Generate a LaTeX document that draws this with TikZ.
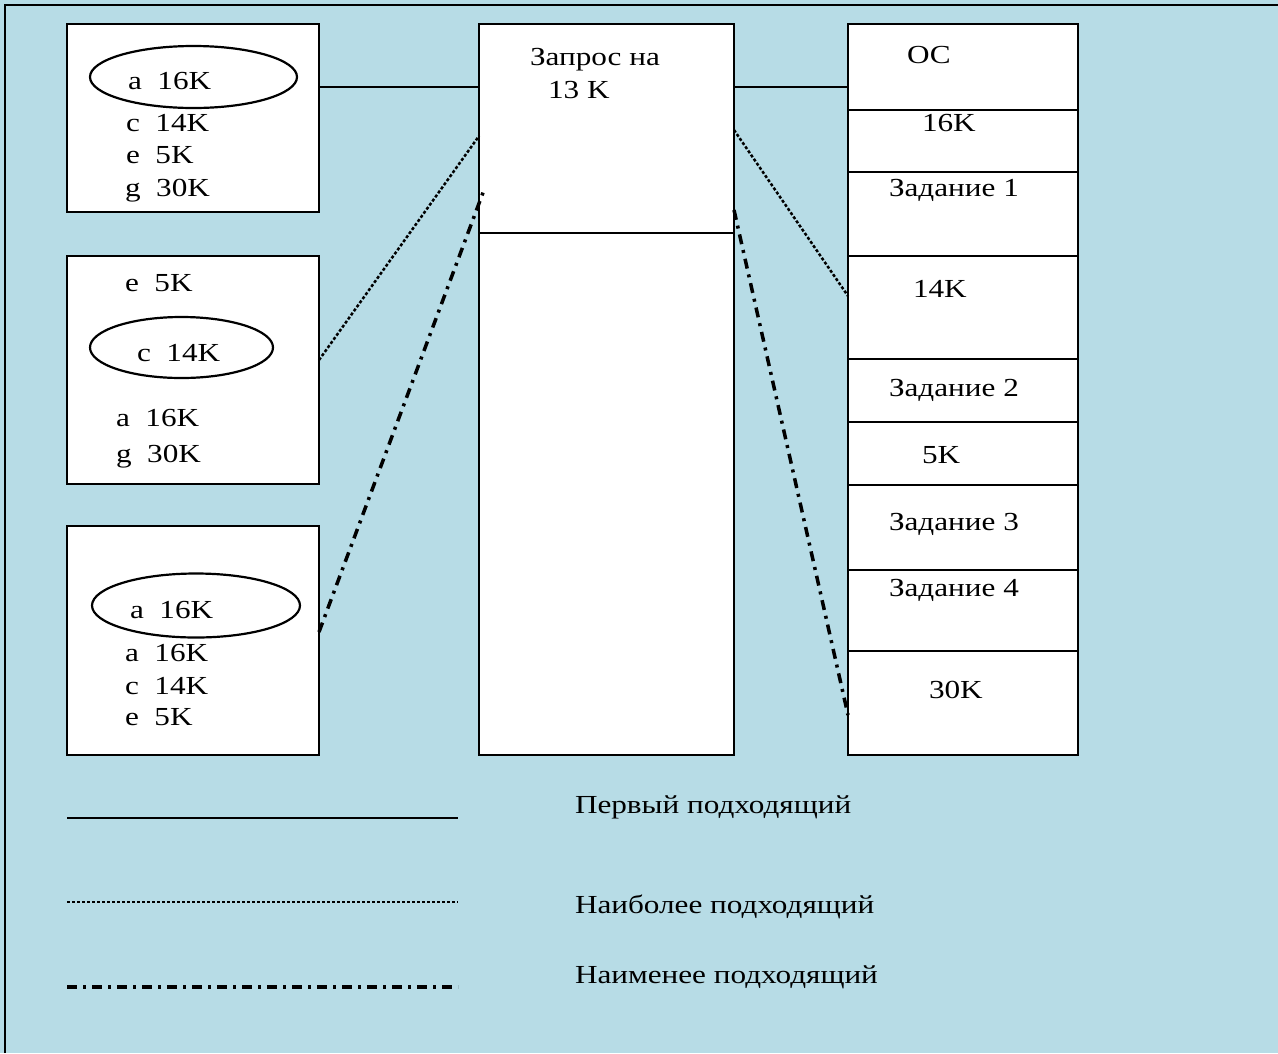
\documentclass[tikz,border=0pt]{standalone}
\usepackage{fontspec}
\setmainfont{Liberation Serif}[FakeStretch=1.2]
\usetikzlibrary{shapes.geometric}
\definecolor{bgblue}{RGB}{183,220,230}

\begin{document}
\begin{tikzpicture}[x=1pt,y=-1pt,
  every node/.style={inner sep=0pt, outer sep=0pt},
  panel/.style={draw, fill=white, line width=2pt},
  ring/.style={ellipse, draw, line width=2.2pt},
  txt/.style={anchor=base west, font=\fontsize{26}{30}\selectfont},
  firstfit/.style={line width=2pt},
  bestfit/.style={line width=2.5pt, dash pattern=on 3pt off 2pt},
  worstfit/.style={line width=3.5pt, dash pattern=on 10pt off 6pt on 3pt off 6pt}]

% background and frame
\fill[bgblue] (0,0) rectangle (1278,1053);
\useasboundingbox (0,0) rectangle (1278,1053);
\draw[line width=2pt] (4.5,1053) -- (4.5,4.5) -- (1278,4.5);

% free-block lists
\node[panel, minimum width=252pt, minimum height=188pt] (b1) at (193,118) {};
\node[panel, minimum width=252pt, minimum height=228pt] (b2) at (193,370) {};
\node[panel, minimum width=252pt, minimum height=229pt] (b3) at (193,640.5) {};

% request block
\node[panel, minimum width=255pt, minimum height=209pt] (midtop) at (606.5,128.5) {};
\node[panel, minimum width=255pt, minimum height=522pt] (midbot) at (606.5,494) {};

% memory map
\node[panel, minimum width=230pt, minimum height=86pt]  (r1) at (963,67) {};
\node[panel, minimum width=230pt, minimum height=62pt]  (r2) at (963,141) {};
\node[panel, minimum width=230pt, minimum height=84pt]  (r3) at (963,214) {};
\node[panel, minimum width=230pt, minimum height=103pt] (r4) at (963,307.5) {};
\node[panel, minimum width=230pt, minimum height=63pt]  (r5) at (963,390.5) {};
\node[panel, minimum width=230pt, minimum height=63pt]  (r6) at (963,453.5) {};
\node[panel, minimum width=230pt, minimum height=85pt]  (r7) at (963,527.5) {};
\node[panel, minimum width=230pt, minimum height=81pt]  (r8) at (963,610.5) {};
\node[panel, minimum width=230pt, minimum height=104pt] (r9) at (963,703) {};

% ellipses
\node[ring, minimum width=207pt, minimum height=62pt] (e1) at (193.5,77) {};
\node[ring, minimum width=183pt, minimum height=61pt] (e2) at (181.5,347.5) {};
\node[ring, minimum width=208pt, minimum height=64pt] (e3) at (196,605.5) {};

% list texts
\node[txt] (t11) at (128,89.5) {a~~16K};
\node[txt] (t12) at (126,131) {c~~14K};
\node[txt] (t13) at (126,163) {e~~5K};
\node[txt] (t14) at (125,196) {g~~30K};

\node[txt] (t21) at (125,291.5) {e~~5K};
\node[txt] (t22) at (137,361.5) {c~~14K};
\node[txt] (t23) at (116,426) {a~~16K};
\node[txt] (t24) at (116,462) {g~~30K};

\node[txt] (t31) at (130,618) {a~~16K};
\node[txt] (t32) at (125,661.5) {a~~16K};
\node[txt] (t33) at (125,694.5) {c~~14K};
\node[txt] (t34) at (125,725) {e~~5K};

% request text
\node[txt] (q1) at (530,65) {Запрос на};
\node[txt] (q2) at (548,98) {13 K};

% memory map texts
\node[txt] (m1) at (907,63) {ОС};
\node[txt] (m2) at (922,131) {16K};
\node[txt] (m3) at (889,196.5) {Задание 1};
\node[txt] (m4) at (913,297.5) {14K};
\node[txt] (m5) at (889,396.5) {Задание 2};
\node[txt] (m6) at (922,463) {5K};
\node[txt] (m7) at (889,530) {Задание 3};
\node[txt] (m8) at (889,596.5) {Задание 4};
\node[txt] (m9) at (929,698) {30K};

% first fit
\coordinate (ff) at ([yshift=31pt]b1.east);
\draw[firstfit] (ff) -- (ff -| midtop.west);
\draw[firstfit] (ff -| midtop.east) -- (ff -| r1.west);

% best fit
\draw[bestfit] ([yshift=10pt]b2.east) -- ([yshift=-7.5pt]midtop.west);
\draw[bestfit] ([yshift=-1.5pt]midtop.east) -- ([yshift=11.5pt]r4.west);

% worst fit
\draw[worstfit] ([yshift=8.5pt]b3.east) -- ([xshift=5pt,yshift=-61.5pt]midtop.west);
\draw[worstfit] ([yshift=-81.5pt]midtop.east) -- ([yshift=-12pt]r9.west);

% legend
\coordinate (la1) at (67,818);  \coordinate (lb1) at (458,818);
\coordinate (la2) at (67,902);  \coordinate (lb2) at (458,902);
\coordinate (la3) at (67,987);  \coordinate (lb3) at (458,987);
\draw[firstfit] (la1) -- (lb1);
\draw[bestfit] (la2) -- (lb2);
\draw[worstfit] (la3) -- (lb3);
\node[txt] (g1) at (575,813) {Первый подходящий};
\node[txt] (g2) at (575,913) {Наиболее подходящий};
\node[txt] (g3) at (575,983) {Наименее подходящий};
\end{tikzpicture}
\end{document}
